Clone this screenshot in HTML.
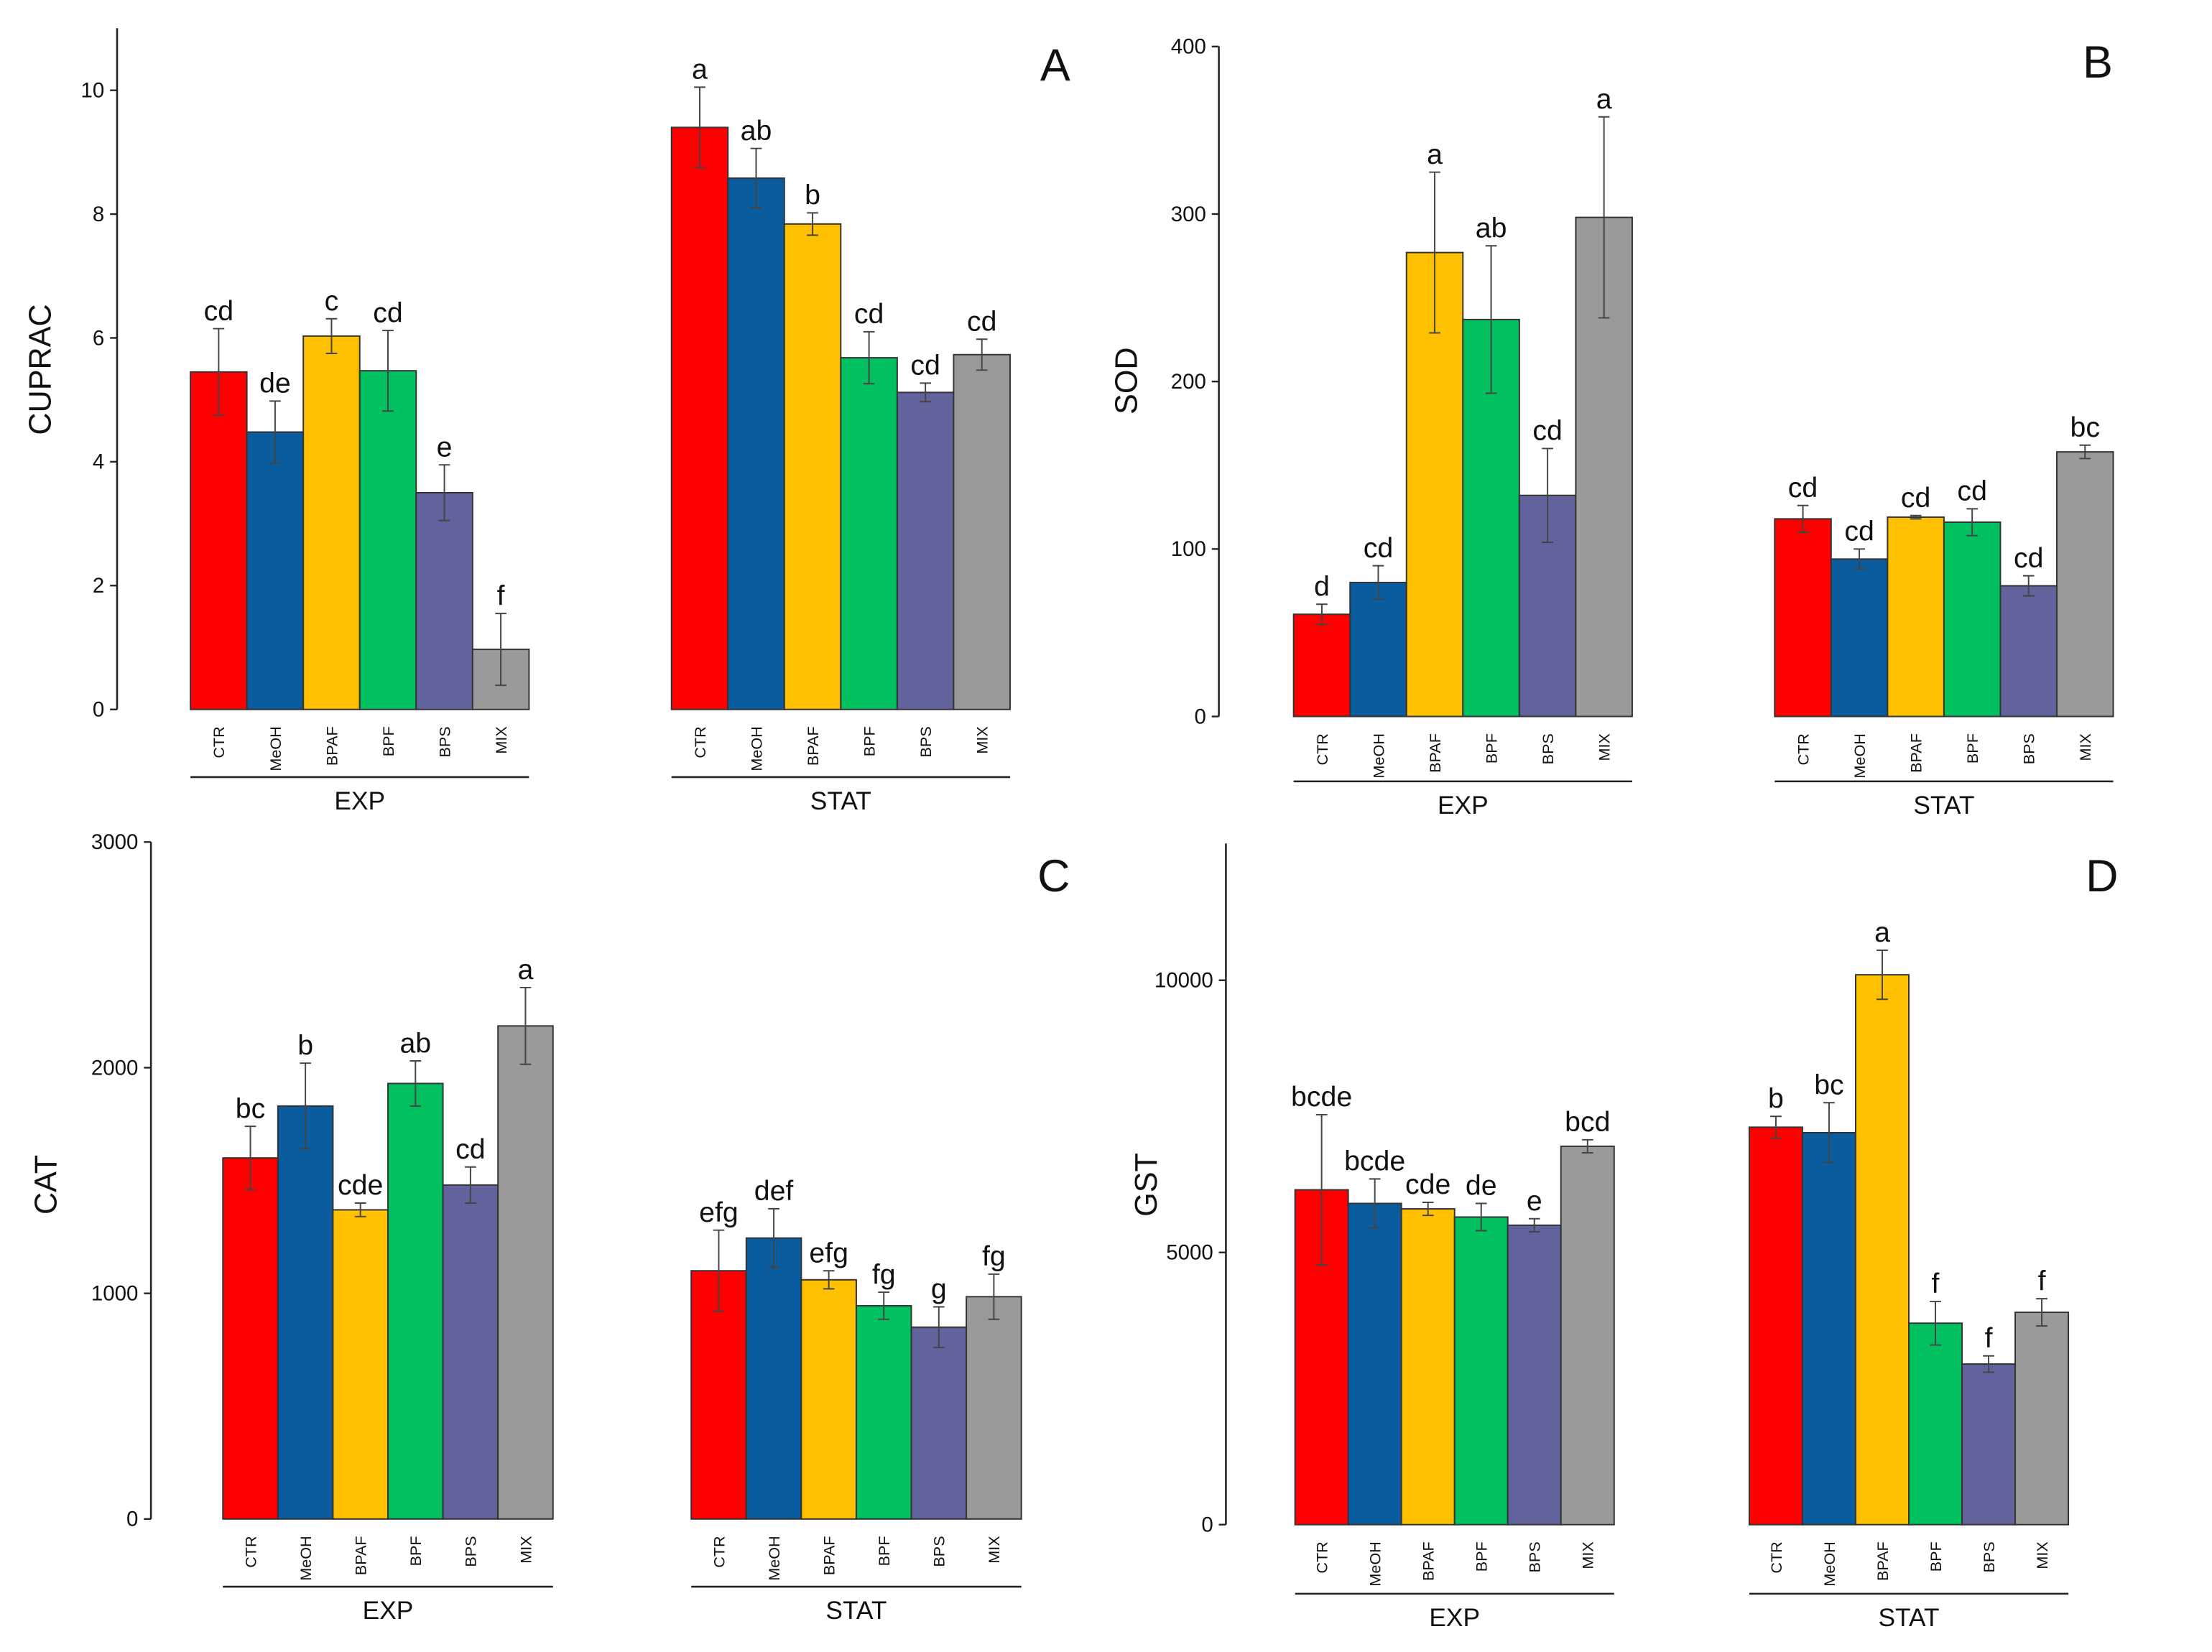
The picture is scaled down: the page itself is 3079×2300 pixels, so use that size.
<!DOCTYPE html>
<html><head><meta charset="utf-8"><style>
html,body{margin:0;padding:0;background:#fff}
svg{display:block}
text{font-family:"Liberation Sans",Arial,sans-serif;fill:#111}
</style></head><body>
<svg id="chart" xmlns="http://www.w3.org/2000/svg" width="3079" height="2300" viewBox="0 0 1568 1171.3" preserveAspectRatio="none"></svg>
<script>
const categories = ["CTR","MeOH","BPAF","BPF","BPS","MIX"];
const groups = ["EXP","STAT"];
const colors = ["#ff0000","#0a5c9e","#ffc000","#00c060","#62629c","#9a9a9a"];

const cupracExp = [5.45,4.48,6.03,5.47,3.5,0.97];
const cupracExpErr = [0.7,0.5,0.28,0.65,0.45,0.58];
const cupracExpLetters = ["cd","de","c","cd","e","f"];
const cupracStat = [9.4,8.58,7.84,5.68,5.12,5.73];
const cupracStatErr = [0.65,0.48,0.18,0.42,0.15,0.25];
const cupracStatLetters = ["a","ab","b","cd","cd","cd"];
const cupracTicks = [0,2,4,6,8,10];

const sodExp = [61,80,277,237,132,298];
const sodExpErr = [6,10,48,44,28,60];
const sodExpLetters = ["d","cd","a","ab","cd","a"];
const sodStat = [118,94,119,116,78,158];
const sodStatErr = [8,6,1,8,6,4];
const sodStatLetters = ["cd","cd","cd","cd","cd","bc"];
const sodTicks = [0,100,200,300,400];

const catExp = [1600,1830,1370,1930,1480,2185];
const catExpErr = [140,190,30,100,80,170];
const catExpLetters = ["bc","b","cde","ab","cd","a"];
const catStat = [1100,1245,1060,945,850,985];
const catStatErr = [180,130,40,60,90,100];
const catStatLetters = ["efg","def","efg","fg","g","fg"];
const catTicks = [0,1000,2000,3000];

const gstExp = [6150,5900,5800,5650,5500,6950];
const gstExpErr = [1380,450,120,250,120,120];
const gstExpLetters = ["bcde","bcde","cde","de","e","bcd"];
const gstStat = [7300,7200,10100,3700,2950,3900];
const gstStatErr = [200,550,450,400,150,250];
const gstStatLetters = ["b","bc","a","f","f","f"];
const gstTicks = [0,5000,10000];

const NS="http://www.w3.org/2000/svg";
const svg=document.getElementById('chart');
function mk(tag,attrs,parent){const e=document.createElementNS(NS,tag);for(const k in attrs)e.setAttribute(k,attrs[k]);(parent||svg).appendChild(e);return e;}

const panels=[
 {id:"a",letter:"A",lx:748,ly:57,ylabel:"CUPRAC",ylx:36,yly:262,axisX:83,axisTop:20,y0:503,vmax:10,ymax:64,ticks:cupracTicks,
  starts:[135,476],bw:40,sets:[[cupracExp,cupracExpErr,cupracExpLetters],[cupracStat,cupracStatErr,cupracStatLetters]],lineY:551,grpY:574},
 {id:"b",letter:"B",lx:1487,ly:55,ylabel:"SOD",ylx:806,yly:270,axisX:864,axisTop:33,y0:508,vmax:400,ymax:33,ticks:sodTicks,
  starts:[917,1258],bw:40,sets:[[sodExp,sodExpErr,sodExpLetters],[sodStat,sodStatErr,sodStatLetters]],lineY:554,grpY:577},
 {id:"c",letter:"C",lx:747,ly:632,ylabel:"CAT",ylx:40,yly:840,axisX:107,axisTop:597,y0:1077,vmax:3000,ymax:597,ticks:catTicks,
  starts:[158,490],bw:39,sets:[[catExp,catExpErr,catExpLetters],[catStat,catStatErr,catStatLetters]],lineY:1125,grpY:1148},
 {id:"d",letter:"D",lx:1490,ly:632,ylabel:"GST",ylx:820,yly:840,axisX:869,axisTop:598,y0:1081,vmax:10000,ymax:695,ticks:gstTicks,
  starts:[918,1240],bw:37.7,sets:[[gstExp,gstExpErr,gstExpLetters],[gstStat,gstStatErr,gstStatLetters]],lineY:1130,grpY:1153}
];

panels.forEach(p=>{
 const g=mk('g',{});
 
 
 const y=v=>p.y0-(v/p.vmax)*(p.y0-p.ymax);
 const ax=mk('line',{x1:p.axisX,y1:p.axisTop,x2:p.axisX,y2:p.y0,stroke:'#222','stroke-width':1.3},g);
 
 
 p.ticks.forEach(t=>{
  const yy=y(t);
  mk('line',{x1:p.axisX-5,y1:yy,x2:p.axisX,y2:yy,stroke:'#222','stroke-width':1.2},g);
  const tl=mk('text',{x:p.axisX-9,y:yy+5,'font-size':15,'text-anchor':'end'},g);
  tl.textContent=t;
  
  
 });
 const yl=mk('text',{x:p.ylx,y:p.yly,'font-size':22,'text-anchor':'middle',transform:`rotate(-90 ${p.ylx} ${p.yly})`},g);
 yl.textContent=p.ylabel;
 
 
 const pl=mk('text',{x:p.lx,y:p.ly,'font-size':32,'text-anchor':'middle'},g);
 pl.textContent=p.letter;
 
 
 p.sets.forEach((s,gi)=>{
  const [vals,errs,lets]=s;
  const x0=p.starts[gi];
  vals.forEach((v,i)=>{
   const x=x0+i*p.bw, yt=y(v);
   const r=mk('rect',{x:x,y:yt,width:p.bw,height:p.y0-yt,fill:colors[i],stroke:'#333','stroke-width':1},g);
   
   
   const cx=x+p.bw/2, eh=y(v+errs[i]), el=y(v-errs[i]);
   const e=mk('path',{d:`M${cx},${eh}V${el}M${cx-4},${eh}H${cx+4}M${cx-4},${el}H${cx+4}`,stroke:'#444','stroke-width':1,fill:'none'},g);
   
   
   const lt=mk('text',{x:cx,y:eh-6,'font-size':20,'text-anchor':'middle'},g);
   lt.textContent=lets[i];
   
   
   const ty=p.y0+12;
   const ct=mk('text',{x:cx+4,y:ty,'font-size':11,'text-anchor':'end',transform:`rotate(-90 ${cx+4} ${ty})`},g);
   ct.textContent=categories[i];
   
   
  });
  const x1=x0, x2=x0+vals.length*p.bw;
  const ul=mk('line',{x1:x1,y1:p.lineY,x2:x2,y2:p.lineY,stroke:'#222','stroke-width':1.3},g);
  
  
  const gt=mk('text',{x:(x1+x2)/2,y:p.grpY,'font-size':18,'text-anchor':'middle'},g);
  gt.textContent=groups[gi];
  
  
 });
});
</script>
</body></html>
